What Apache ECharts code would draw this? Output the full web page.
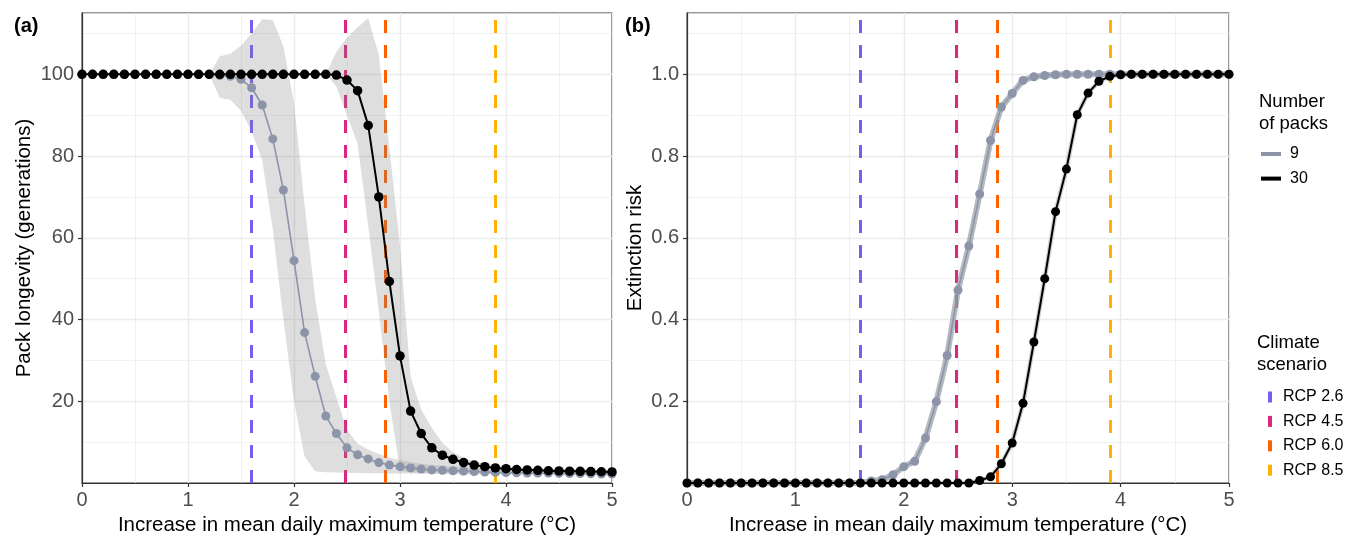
<!DOCTYPE html>
<html><head><meta charset="utf-8">
<script src="https://cdn.jsdelivr.net/npm/echarts@6/dist/echarts.min.js"></script>
<style>html,body{margin:0;padding:0;background:#fff}#c{width:1357px;height:535px}</style>
</head><body><div id="c"></div>
<script>
// ---- data ----
const temps = [0,0.1,0.2,0.3,0.4,0.5,0.6,0.7,0.8,0.9,1.0,1.1,1.2,1.3,1.4,1.5,1.6,1.7,1.8,1.9,2.0,2.1,2.2,2.3,2.4,2.5,2.6,2.7,2.8,2.9,3.0,3.1,3.2,3.3,3.4,3.5,3.6,3.7,3.8,3.9,4.0,4.1,4.2,4.3,4.4,4.5,4.6,4.7,4.8,4.9,5.0];
const longevity9 = [100,100,100,100,100,100,100,100,100,100,100,100,100,99.7,99.5,98.8,96.7,92.5,84.2,71.7,54.4,36.8,26.1,16.4,12.1,8.6,6.9,5.9,5.0,4.4,4.0,3.7,3.4,3.2,3.1,3.0,2.9,2.8,2.7,2.6,2.55,2.5,2.45,2.4,2.4,2.35,2.3,2.3,2.25,2.2,2.2];
const longevity30 = [100,100,100,100,100,100,100,100,100,100,100,100,100,100,100,100,100,100,100,100,100,100,100,100,99.8,98.6,96.0,87.5,70.0,49.3,31.1,17.6,12.1,8.6,6.8,5.8,5.0,4.4,4.0,3.7,3.5,3.3,3.2,3.1,3.0,2.95,2.9,2.85,2.8,2.75,2.7];
const risk9 = [0,0,0,0,0,0,0,0,0,0,0,0,0,0,0,0,0,0.005,0.008,0.02,0.04,0.053,0.11,0.199,0.312,0.472,0.58,0.707,0.838,0.92,0.953,0.985,0.994,0.997,0.999,1,1,1,1,1,1,1,1,1,1,1,1,1,1,1,1];
const risk30 = [0,0,0,0,0,0,0,0,0,0,0,0,0,0,0,0,0,0,0,0,0,0,0,0,0,0,0,0.006,0.015,0.047,0.098,0.195,0.345,0.50,0.664,0.768,0.901,0.954,0.983,0.995,0.999,1,1,1,1,1,1,1,1,1,1];
// uncertainty ribbons (panel a)
const ribbonX9 = [1.2,1.3,1.4,1.5,1.6,1.7,1.8,1.9,2.0,2.1,2.2,2.3,2.4,2.5,2.6,2.7,2.8,2.9,3.0,3.1,3.2,3.3,3.4,3.5,3.6,3.7,3.8,3.9,4.0,4.1,4.2,4.3,4.4,4.5,4.6,4.7,4.8,4.9,5.0];
const upper9 = [100,104.4,105,107,110,113.5,113.3,106.8,93,68,45,29,21,13,9.6,8.2,7.1,6.2,5.6,5.1,4.7,4.4,4.2,4.0,3.9,3.8,3.7,3.6,3.55,3.5,3.4,3.35,3.3,3.2,3.15,3.1,3.05,3.0,2.95];
const lower9 = [100,94.2,93.8,91,86,79,62,40,20,6.5,2.8,2.6,2.55,2.5,2.45,2.4,2.4,2.35,2.3,2.3,2.25,2.2,2.2,2.15,2.1,2.1,2.05,2.0,2.0,1.95,1.95,1.9,1.9,1.85,1.85,1.8,1.8,1.75,1.75];
const ribbonX30 = [2.3,2.4,2.5,2.6,2.7,2.8,2.9,3.0,3.1,3.2,3.3,3.4,3.5,3.6,3.7,3.8,3.9,4.0,4.1,4.2,4.3,4.4,4.5,4.6,4.7,4.8,4.9,5.0];
const upper30 = [100,105.5,109,111.5,113.7,104.8,82,58,26,18,13.5,9.8,7.5,6.2,5.3,4.8,4.4,4.1,3.9,3.75,3.65,3.55,3.5,3.45,3.4,3.35,3.3,3.25];
const lower30 = [100,97,90,83,63,42,20,3.0,2.6,2.55,2.5,2.5,2.45,2.45,2.4,2.4,2.35,2.35,2.3,2.3,2.3,2.25,2.25,2.2,2.2,2.2,2.15,2.15];
// climate scenarios
const rcpNames = ['RCP 2.6','RCP 4.5','RCP 6.0','RCP 8.5'];
const rcpValues = [1.605, 2.483, 2.862, 3.903];
const packNames = ['9','30'];
const xTicks = [0,1,2,3,4,5];
const yTicksA = [20,40,60,80,100];
const yTicksB = [0.2,0.4,0.6,0.8,1.0];

// ---- styles ----
const rcpColors = ['#785EF0','#DC267F','#FE6100','#FFB000'];
const greyCol = '#8B94A8', blackCol = '#000000';
const FONT = "'Liberation Sans', Arial, Helvetica, sans-serif";
const gridCol = '#EBEBEB', borderCol = '#333333';

const chart = echarts.init(document.getElementById('c'));
const pairs = (xs, ys) => xs.map((x, i) => [x, ys[i]]);

function xAxisMain(gi) {
  return { gridIndex: gi, type: 'value', min: 0, max: 5, interval: 1, position: 'bottom',
    name: 'Increase in mean daily maximum temperature (°C)', nameLocation: 'middle', nameGap: 28,
    nameTextStyle: { fontSize: 20.5, color: '#000', fontFamily: FONT },
    axisLine: { show: true, onZero: false, lineStyle: { color: borderCol, width: 1.2 } },
    axisTick: { show: true, length: 4, lineStyle: { color: borderCol, width: 1.2 }, customValues: xTicks },
    axisLabel: { fontSize: 20, color: '#4D4D4D', margin: 7, fontFamily: FONT, customValues: xTicks },
    splitLine: { show: true, lineStyle: { color: gridCol, width: 1.4 } } };
}
function minorAxis(gi, min, max, interval, pos) {
  return { gridIndex: gi, type: 'value', min, max, interval, position: pos,
    axisLine: { show: false }, axisTick: { show: false }, axisLabel: { show: false },
    splitLine: { show: true, lineStyle: { color: gridCol, width: 0.7 } } };
}
function yAxisMain(gi, max, interval, ticks, name, nameGap, fmt) {
  return { gridIndex: gi, type: 'value', min: 0, max, interval, position: 'left',
    name, nameLocation: 'middle', nameGap,
    nameTextStyle: { fontSize: 20.5, color: '#000', fontFamily: FONT },
    axisLine: { show: true, onZero: false, lineStyle: { color: borderCol, width: 1.2 } },
    axisTick: { show: true, length: 4, lineStyle: { color: borderCol, width: 1.2 }, customValues: ticks },
    axisLabel: { fontSize: 20, color: '#4D4D4D', margin: 8, fontFamily: FONT, customValues: ticks, formatter: fmt },
    splitLine: { show: true, lineStyle: { color: gridCol, width: 1.4 } } };
}

function rcpSeries(xi, yi) {
  return rcpNames.map((n, i) => ({
    name: n, type: 'line', xAxisIndex: xi, yAxisIndex: yi, data: [], color: rcpColors[i], z: 2,
    markLine: { silent: true, z: 2, symbol: ['none', 'none'], label: { show: false },
      emphasis: { disabled: true },
      lineStyle: { color: rcpColors[i], width: 3, type: [13, 12], opacity: 1 },
      data: [{ xAxis: rcpValues[i] }] }
  }));
}
function ribbon(name, xs, lo, hi, xi, yi) {
  return { type: 'custom', name, xAxisIndex: xi, yAxisIndex: yi, z: 3, silent: true, data: [[xs[0], lo[0]]],
    renderItem: (params, api) => {
      const pts = [];
      for (let i = 0; i < xs.length; i++) pts.push(api.coord([xs[i], hi[i]]));
      for (let i = xs.length - 1; i >= 0; i--) pts.push(api.coord([xs[i], lo[i]]));
      return { type: 'polygon', shape: { points: pts }, style: { fill: 'rgba(128,128,128,0.26)' } };
    } };
}
function pointLine(name, ys, xi, yi, col, lw, size, z) {
  return { name, type: 'line', xAxisIndex: xi, yAxisIndex: yi, data: pairs(temps, ys), color: col, z,
    symbol: 'circle', symbolSize: size, showAllSymbol: true, silent: true,
    lineStyle: { color: col, width: lw }, itemStyle: { color: col } };
}
function halo(name, ys, xi, yi, col, lw, z) {
  return { name, type: 'line', xAxisIndex: xi, yAxisIndex: yi, data: pairs(temps, ys), z, silent: true,
    symbol: 'none', lineStyle: { color: col, width: lw } };
}

const option = {
  animation: false,
  textStyle: { fontFamily: FONT },
  title: [
    { text: '(a)', left: 9, top: 11, textStyle: { fontSize: 20, fontWeight: 'bold', color: '#000', fontFamily: FONT } },
    { text: '(b)', left: 620, top: 11, textStyle: { fontSize: 20, fontWeight: 'bold', color: '#000', fontFamily: FONT } },
    { text: 'Number\nof packs', left: 1254, top: 86, textStyle: { fontSize: 18.5, lineHeight: 22, fontWeight: 'normal', color: '#000', fontFamily: FONT } },
    { text: 'Climate\nscenario', left: 1252, top: 327, textStyle: { fontSize: 18.5, lineHeight: 22, fontWeight: 'normal', color: '#000', fontFamily: FONT } }
  ],
  grid: [
    { left: 82, top: 13, width: 530, height: 470, outerBoundsMode: 'none', containLabel: false, show: true, borderColor: borderCol, borderWidth: 1.2, backgroundColor: 'transparent' },
    { left: 687, top: 13, width: 542, height: 470, outerBoundsMode: 'none', containLabel: false, show: true, borderColor: borderCol, borderWidth: 1.2, backgroundColor: 'transparent' }
  ],
  xAxis: [ xAxisMain(0), minorAxis(0, 0, 5, 0.5, 'bottom'), xAxisMain(1), minorAxis(1, 0, 5, 0.5, 'bottom') ],
  yAxis: [
    yAxisMain(0, 115, 20, yTicksA, 'Pack longevity (generations)', 47, v => (v > 0 && v % 20 === 0) ? String(v) : ''),
    minorAxis(0, 0, 115, 10, 'left'),
    yAxisMain(1, 1.15, 0.2, yTicksB, 'Extinction risk', 41, v => (v > 0.01 && v < 1.05) ? v.toFixed(1) : ''),
    minorAxis(1, 0, 1.15, 0.1, 'left')
  ],
  legend: [
    { data: packNames, orient: 'vertical', left: 1256, top: 141, itemWidth: 20, itemHeight: 4, itemGap: 8.6,
      icon: 'rect', selectedMode: false, itemStyle: { borderWidth: 0 },
      textStyle: { fontSize: 16, color: '#000', fontFamily: FONT, padding: [0, 0, 0, 4] } },
    { data: rcpNames, orient: 'vertical', left: 1263, top: 384, itemWidth: 4, itemHeight: 11, itemGap: 8.4,
      icon: 'rect', selectedMode: false, itemStyle: { borderWidth: 0 },
      textStyle: { fontSize: 16, color: '#000', fontFamily: FONT, padding: [0, 0, 0, 6] } }
  ],
  series: [
    pointLine('9', longevity9, 0, 0, greyCol, 1.6, 9, 5),
    pointLine('30', longevity30, 0, 0, blackCol, 2, 9.5, 6),
    ...rcpSeries(0, 0),
    ...rcpSeries(2, 2),
    ribbon('ribbon9', ribbonX9, lower9, upper9, 0, 0),
    ribbon('ribbon30', ribbonX30, lower30, upper30, 0, 0),
    halo('band9', risk9, 2, 2, 'rgba(150,155,165,0.7)', 6, 4),
    halo('band30', risk30, 2, 2, 'rgba(150,150,150,0.45)', 4.5, 4),
    pointLine('9', risk9, 2, 2, greyCol, 1.6, 9, 5),
    pointLine('30', risk30, 2, 2, blackCol, 2, 9, 6)
  ]
};
chart.setOption(option);
</script></body></html>
